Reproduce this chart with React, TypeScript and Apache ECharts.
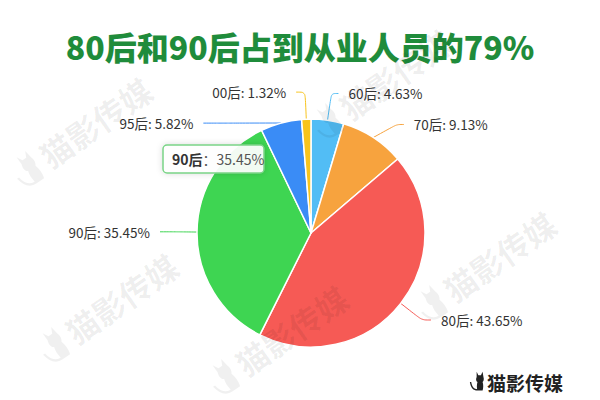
import React, { useEffect, useRef } from "react";
import * as echarts from "echarts";

const titleText = "80后和90后占到从业人员的79%";
const categories = ["60后", "70后", "80后", "90后", "95后", "00后"];
const values = [4.63, 9.13, 43.65, 35.45, 5.82, 1.32];
const colors = ["#52bdf5", "#f7a33e", "#f65a55", "#3ed552", "#3a8cf6", "#f8c41c"];
const lineTails = [7, 7, 9, 15, 24, 9];
const highlightIndex = 3;
const brandText = "猫影传媒";
const watermarkSpots = [
  [52, 172],
  [78, 348],
  [248, 380],
  [456, 306],
  [352, 124],
];

const CAT_D =
  "M9 1 L11 5 L14 5 L16 1 L17 7 C18 10 17 12 16 13 C17 16 17 20 16 23 L10 23 C9 20 9 16 10 13 C8 12 8 9 9 7 Z M10 23 C5 23 2 20 1 13 L2.6 13 C3.6 19 6 21.4 10 21.4 Z";

let registered = false;
function registerCat() {
  if (registered) return;
  echarts.graphic.registerShape("cat", echarts.graphic.extendPath(CAT_D, {}));
  registered = true;
}

export default function App() {
  const ref = useRef<HTMLDivElement>(null);
  useEffect(() => {
    if (!ref.current) return;
    registerCat();
    const chart = echarts.init(ref.current, undefined, { renderer: "svg" });
    const font = '"Microsoft YaHei", "Noto Sans CJK SC", "Noto Sans", sans-serif';
    const rot = (35 * Math.PI) / 180;

    const watermarks: any[] = [];
    watermarkSpots.forEach(([x, y]) => {
      watermarks.push({
        type: "group",
        x,
        y,
        rotation: rot,
        z: 100,
        silent: true,
        children: [
          {
            type: "cat",
            x: -34,
            y: -34,
            scaleX: 1.5,
            scaleY: 1.5,
            z: 100,
            style: { fill: "rgba(0,0,0,0.06)" },
          },
          {
            type: "text",
            x: 0,
            y: 0,
            z: 100,
            style: {
              text: brandText,
              font: `bold 32px ${font}`,
              fill: "rgba(0,0,0,0.065)",
              textAlign: "left",
              textVerticalAlign: "bottom",
            },
          },
        ],
      });
    });

    const option: any = {
      animation: false,
      backgroundColor: "#ffffff",
      title: {
        text: titleText,
        left: "center",
        top: 25,
        textStyle: {
          fontSize: 32,
          fontWeight: 900,
          color: "#1f8c3b",
          fontFamily: font,
        },
      },
      color: colors,
      series: [
        {
          type: "pie",
          center: [311, 233],
          radius: 114,
          startAngle: 90,
          clockwise: true,
          avoidLabelOverlap: true,
          data: categories.map((c, i) => ({
            name: c,
            value: values[i],
            labelLine: { length2: lineTails[i] },
          })),
          itemStyle: { borderColor: "#ffffff", borderWidth: 1.5 },
          label: {
            formatter: (p: any) => `${p.name}: ${p.value.toFixed(2)}%`,
            color: "#333",
            fontSize: 13.5,
            fontFamily: font,
            padding: [5, 5],
            lineHeight: 19,
          },
          labelLine: { length: 27, length2: 9, smooth: true, lineStyle: { width: 1 } },
          emphasis: { disabled: true },
        },
      ],
      graphic: [
        ...watermarks,
        {
          type: "group",
          x: 163,
          y: 145,
          z: 110,
          children: [
            {
              type: "rect",
              z: 110,
              shape: { x: 0, y: 0, width: 101, height: 28, r: 4 },
              style: {
                fill: "rgba(255,255,255,0.93)",
                stroke: "#79d486",
                lineWidth: 1.5,
                shadowBlur: 6,
                shadowColor: "rgba(0,0,0,0.15)",
              },
            },
            {
              type: "text",
              z: 111,
              x: 9,
              y: 14,
              style: {
                text: `{b|${categories[highlightIndex]}}：${values[highlightIndex].toFixed(2)}%`,
                font: `14px ${font}`,
                fill: "#555",
                textVerticalAlign: "middle",
                rich: { b: { fontWeight: "bold", fill: "#333", fontSize: 14, fontFamily: font } },
              },
            },
          ],
        },
        {
          type: "cat",
          x: 469,
          y: 371,
          scaleX: 0.85,
          scaleY: 0.85,
          z: 110,
          style: { fill: "#222" },
        },
        {
          type: "text",
          x: 487,
          y: 382,
          z: 110,
          style: {
            text: brandText,
            font: `bold 19px ${font}`,
            fill: "#222",
            textVerticalAlign: "middle",
          },
        },
      ],
    };
    chart.setOption(option);
    return () => chart.dispose();
  }, []);
  return (
    <div
      ref={ref}
      style={{ position: "fixed", left: 0, top: 0, width: 600, height: 400 }}
    />
  );
}
